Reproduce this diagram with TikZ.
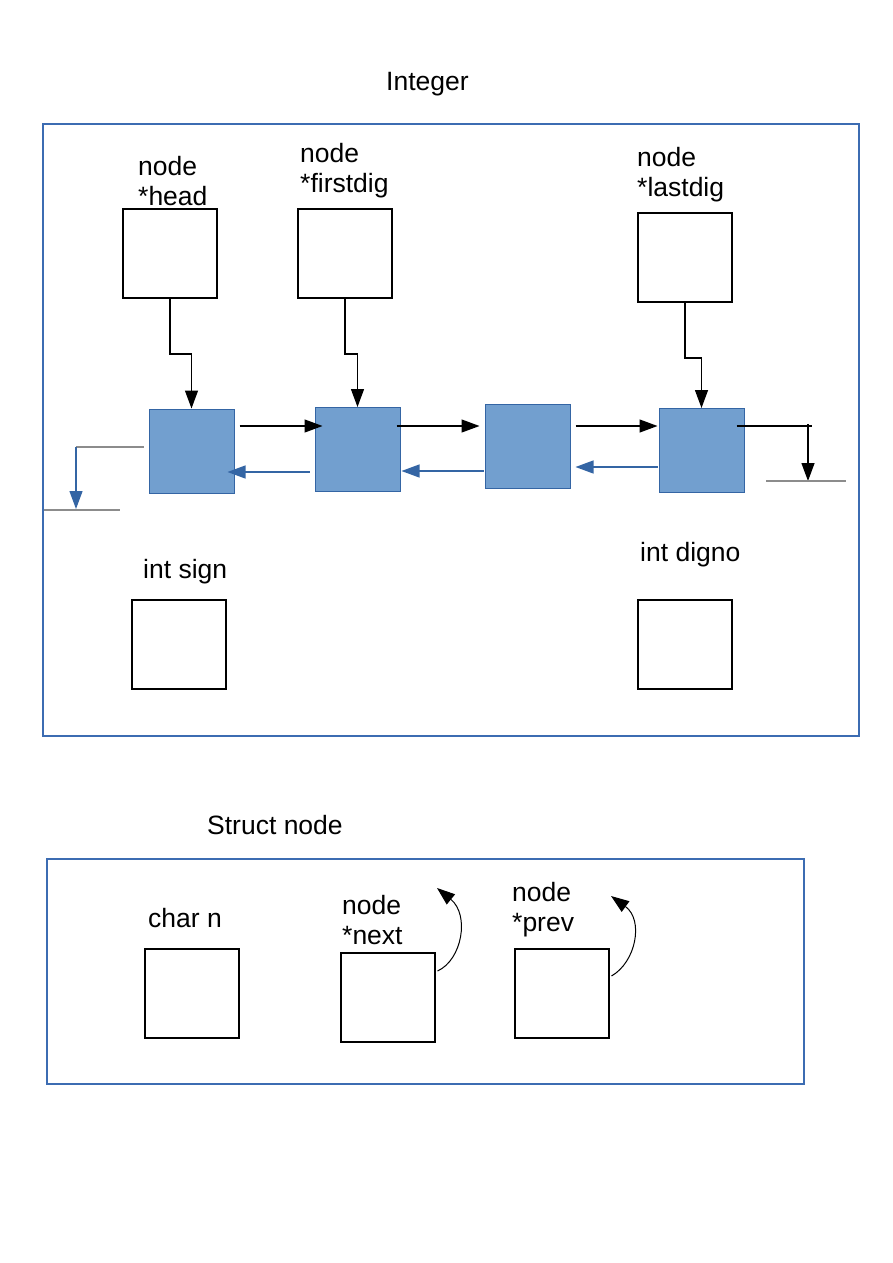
\documentclass[tikz,border=0pt]{standalone}
\usepackage{fontspec}
\setmainfont{Liberation Sans}
\usetikzlibrary{arrows.meta}
\definecolor{frameBlue}{RGB}{60,108,178}
\definecolor{cellFill}{RGB}{114,159,207}
\definecolor{cellLine}{RGB}{52,101,164}
\colorlet{nilGray}{gray!90}
\tikzset{
  ptrbox/.style={draw,line width=2pt,minimum width=94pt,minimum height=89pt,inner sep=0pt},
  cell/.style={fill=cellFill,draw=cellLine,line width=1pt,minimum width=85pt,minimum height=84pt,inner sep=0pt},
  lbl/.style={anchor=base west,inner sep=0pt,align=left,font=\fontsize{26.5}{30}\selectfont},
  fwd/.style={line width=1.3pt,-{Triangle[length=18pt,width=13pt]}},
  back/.style={cellLine,line width=1.3pt,-{Triangle[length=18pt,width=13pt]}},
}
\begin{document}
\begin{tikzpicture}[x=1pt,y=-1pt]
\useasboundingbox (0,0) rectangle (893,1263);
% Integer
\node[lbl] (inttitle) at (386,90) {Integer};
\draw[frameBlue,line width=2pt] (43,124) rectangle (859,736);
\node[ptrbox] (head) at (170,253.5) {};
\node[ptrbox] (firstdig) at (345,253.5) {};
\node[ptrbox] (lastdig) at (685,257.5) {};
\node[ptrbox] (sign) at (179,644.5) {};
\node[ptrbox] (digno) at (685,644.5) {};
\node[lbl] (headlbl) at (138,205) {node\\*head};
\node[lbl] (firstlbl) at (300,192) {node\\*firstdig};
\node[lbl] (lastlbl) at (637,196) {node\\*lastdig};
\node[lbl] (signlbl) at (143,578) {int sign};
\node[lbl] (dignolbl) at (640,561) {int digno};
% digits
\node[cell] (n1) at (191.5,451) {};
\node[cell] (n2) at (357.5,449.5) {};
\node[cell] (n3) at (527.5,446.5) {};
\node[cell] (n4) at (701.5,450.5) {};
\draw[fwd] (head.south) -- ++(0,55) -| (n1.north);
\draw[fwd] (firstdig.south) -- ++(0,55) -| (n2.north);
\draw[fwd] (lastdig.south) -- ++(0,55) -| (n4.north);
\draw[fwd] ([xshift=5pt]n1.east |- 0,426) -- ([xshift=8pt]n2.west |- 0,426);
\draw[fwd] ([xshift=-4pt]n2.east |- 0,426) -- ([xshift=-5pt]n3.west |- 0,426);
\draw[fwd] ([xshift=5pt]n3.east |- 0,426) -- ([xshift=-1pt]n4.west |- 0,426);
\draw[back] ([xshift=-5pt]n2.west |- 0,472) -- ([xshift=-7pt]n1.east |- 0,472);
\draw[back] ([xshift=-1pt]n3.west |- 0,471) -- ([xshift=1pt]n2.east |- 0,471);
\draw[back] ([xshift=-1pt]n4.west |- 0,467) -- ([xshift=5pt]n3.east |- 0,467);
% null ends
\coordinate (nilL) at (76,509);
\coordinate (nilR) at (808,481);
\draw[nilGray,line width=1.3pt] ([xshift=-5pt]n1.west |- 0,447) -- (nilL |- 0,447);
\draw[back] (nilL |- 0,447) -- (nilL);
\draw[nilGray,line width=1.3pt] (44,510) -- (120,510);
\draw[line width=1.3pt] ([xshift=-8pt]n4.east |- 0,426) -- (812,426);
\draw[fwd] (nilR |- 0,424) -- (nilR);
\draw[nilGray,line width=1.3pt] (766,481) -- (846,481);
% Struct node
\node[lbl] (structtitle) at (207,834) {Struct node};
\draw[frameBlue,line width=2pt] (47,859) rectangle (804,1084);
\node[ptrbox] (charn) at (192,993.5) {};
\node[ptrbox] (next) at (387.5,997.5) {};
\node[ptrbox] (prev) at (561.5,993.5) {};
\node[lbl] (charlbl) at (148,927) {char n};
\node[lbl] (nextlbl) at (342,944) {node\\*next};
\node[lbl] (prevlbl) at (512,931) {node\\*prev};
\coordinate (nextref) at (437,888);
\coordinate (prevref) at (611,896);
\draw[fwd,line width=1pt] ([xshift=2pt,yshift=-19pt]next.north east) .. controls (462,960) and (470,915) .. (nextref);
\draw[fwd,line width=1pt] ([xshift=2pt,yshift=-28pt]prev.north east) .. controls (636,962) and (644,920) .. (prevref);
\end{tikzpicture}
\end{document}
